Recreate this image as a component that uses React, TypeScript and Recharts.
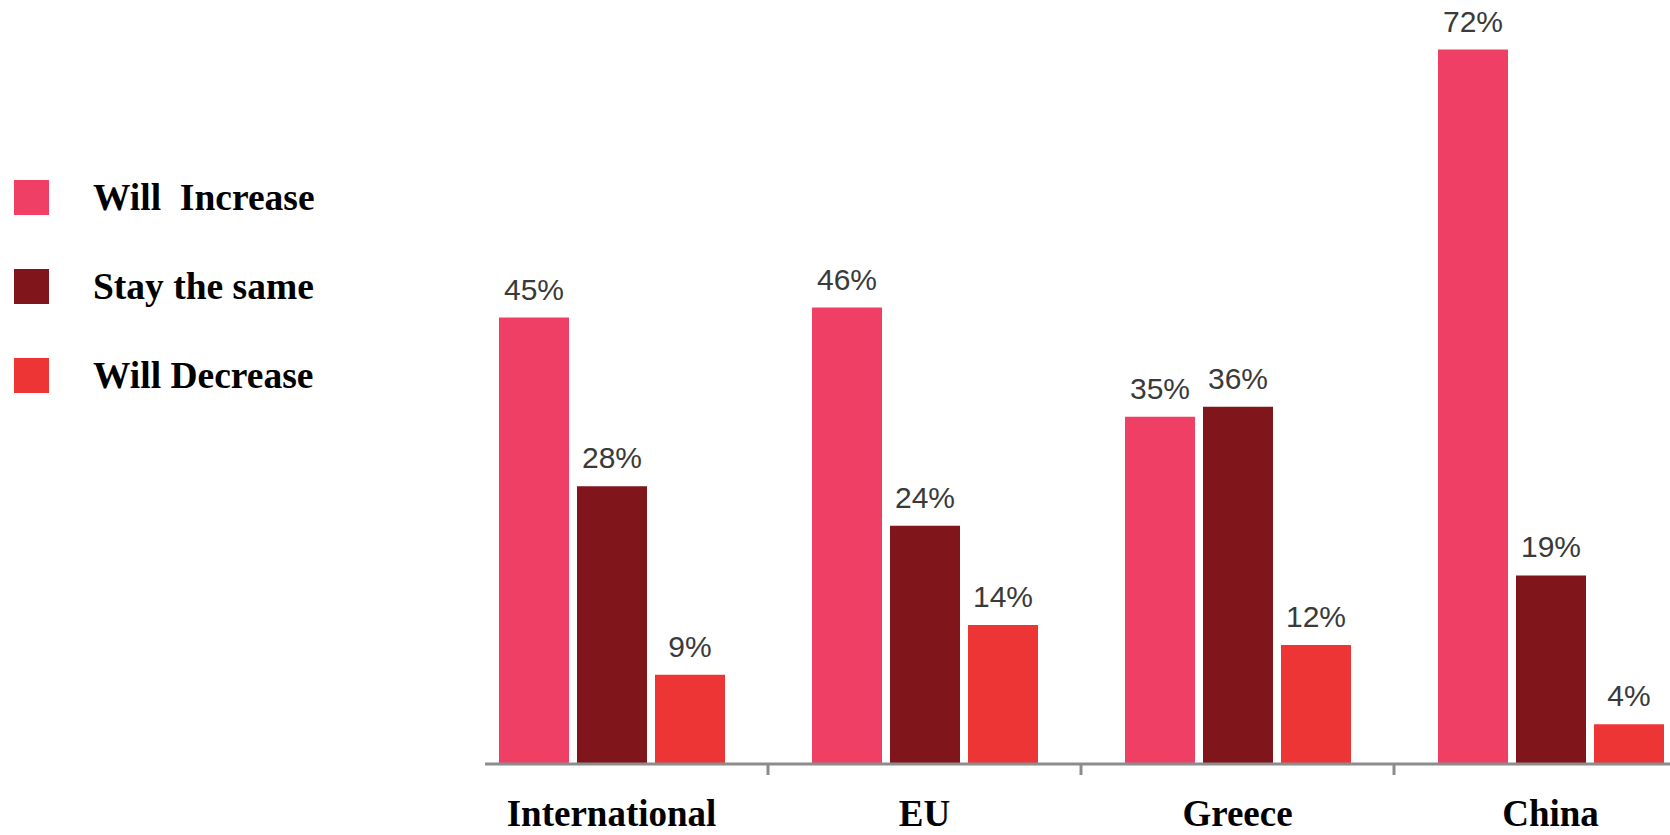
import { BarChart, Bar, XAxis, YAxis, Legend, LabelList } from "recharts";

const categories = ["International", "EU", "Greece", "China"];
const willIncrease = [45, 46, 35, 72];
const staySame = [28, 24, 36, 19];
const willDecrease = [9, 14, 12, 4];

const seriesKeys = ["increase", "same", "decrease"];
const seriesNames = ["Will  Increase", "Stay the same", "Will Decrease"];
const seriesColors = ["#EF3F64", "#80161C", "#EE3535"];

const data = categories.map((name, i) => ({
    name,
    increase: willIncrease[i],
    same: staySame[i],
    decrease: willDecrease[i],
}));

const CategoryTick = (props: any) => {
    const { x, y, payload, index } = props;
    const half = payload && payload.offset ? payload.offset : 0;
    return (
        <g>
            {index > 0 && (
                <line x1={x - half} x2={x - half} y1={y} y2={y + 11} stroke="#8c8c8c" strokeWidth={3} />
            )}
            <text
                x={x}
                y={y + 62}
                textAnchor="middle"
                fontFamily="Liberation Serif"
                fontWeight={700}
                fontSize={37}
                fill="#000"
            >
                {payload.value}
            </text>
        </g>
    );
};

const LegendBox = () => (
    <div>
        {seriesNames.map((name, i) => (
            <div key={name} style={{ display: "flex", alignItems: "center", height: 89 }}>
                <div style={{ width: 35, height: 35, background: seriesColors[i], marginRight: 44 }} />
                <span
                    style={{
                        fontFamily: "Liberation Serif",
                        fontWeight: 700,
                        fontSize: 37.5,
                        color: "#000",
                        whiteSpace: "pre",
                    }}
                >
                    {name}
                </span>
            </div>
        ))}
    </div>
);

export default function App() {
    return (
        <div style={{ position: "absolute", left: 0, top: 0, width: 1670, height: 835, overflow: "hidden", background: "#fff" }}>
            <BarChart
                width={1707}
                height={835}
                data={data}
                barSize={70}
                barGap={8}
                margin={{ top: 0, right: 0, left: 485, bottom: 0 }}
            >
                <XAxis
                    dataKey="name"
                    height={71}
                    padding={{ left: -30, right: 0 }}
                    tickSize={0}
                    tickMargin={0}
                    tickLine={false}
                    axisLine={{ stroke: "#8c8c8c", strokeWidth: 3 }}
                    tick={<CategoryTick />}
                    interval={0}
                />
                <YAxis hide domain={[0, 77]} />
                <Legend
                    layout="horizontal"
                    verticalAlign="middle"
                    align="center"
                    content={<LegendBox />}
                    wrapperStyle={{ left: 14, top: 153, width: 440, height: 270 }}
                />
                {seriesKeys.map((key, i) => (
                    <Bar key={key} dataKey={key} name={seriesNames[i]} fill={seriesColors[i]} isAnimationActive={false}>
                        <LabelList
                            dataKey={key}
                            position="top"
                            offset={18}
                            formatter={(v: any) => `${v}%`}
                            fill="#3a3a3a"
                            fontSize={30}
                            fontFamily="Liberation Sans"
                        />
                    </Bar>
                ))}
            </BarChart>
        </div>
    );
}
